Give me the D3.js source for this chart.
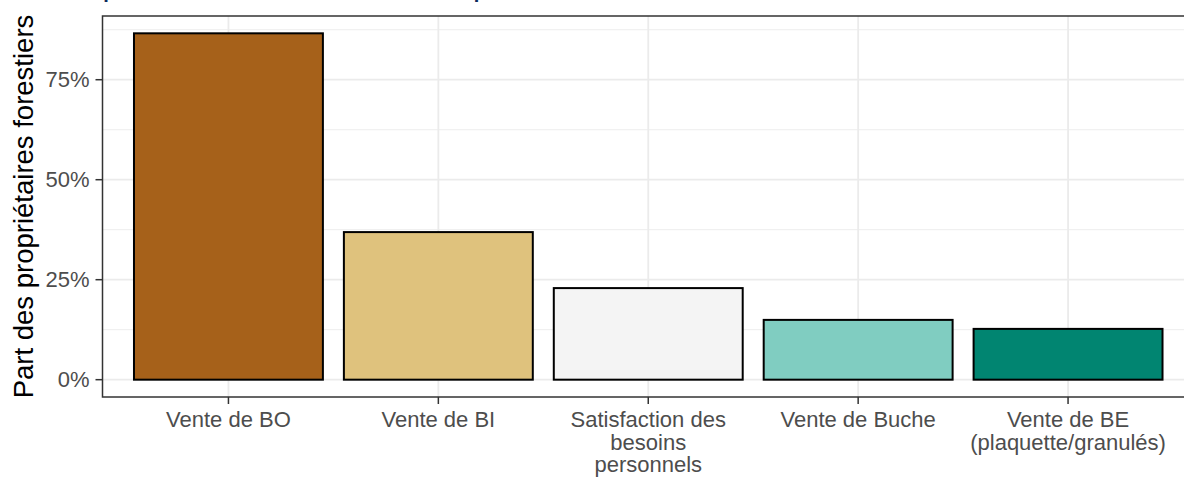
<!DOCTYPE html>
<html>
<meta charset="UTF-8">
    <head>
        <script src="https://d3js.org/d3.v7.min.js"></script>
        <style>
            body {
                margin: 0;
                font-family: "Liberation Sans", Arial, sans-serif;
                background: white;
            }
        </style>
    </head>
    <body>
    </body>
    <script>
        // data
        let categories = ["Vente de BO", "Vente de BI", "Satisfaction des besoins personnels", "Vente de Buche", "Vente de BE (plaquette/granulés)"];
        let labelLines = [["Vente de BO"], ["Vente de BI"], ["Satisfaction des", "besoins", "personnels"], ["Vente de Buche"], ["Vente de BE", "(plaquette/granulés)"]];
        let shares = [0.866, 0.369, 0.229, 0.1495, 0.127];
        let colors = ["#A6611A", "#DFC27D", "#F4F4F4", "#80CDC1", "#018571"];
        let yTicks = [0, 0.25, 0.5, 0.75];
        let yMinorTicks = [0.125, 0.375, 0.625, 0.875];
        let yTitle = "Part des propriétaires forestiers";
        let title = "produits valorisés en forêt privée";

        let width = 1184;
        let height = 477;
        let panel = {left: 102.5, top: 16, right: 1194, bottom: 397};

        let svg = d3.select("body").append("svg")
            .attr("width", width)
            .attr("height", height);

        let x = d3.scalePoint()
            .domain(categories)
            .range([panel.left, panel.right])
            .padding(0.6);

        let maxv = d3.max(shares);
        let y = d3.scaleLinear()
            .domain([-0.05 * maxv, maxv * 1.05])
            .range([panel.bottom, panel.top]);

        let barWidth = x.step() * 0.9;

        // title, mostly cut off at the top of the picture
        svg.append("text")
            .attr("x", panel.left)
            .attr("y", -4.6)
            .attr("fill", "#0B2A5B")
            .attr("font-size", "31.6px")
            .text(title);

        let clip = svg.append("clipPath").attr("id", "panelclip")
            .append("rect")
            .attr("x", panel.left)
            .attr("y", panel.top)
            .attr("width", panel.right - panel.left)
            .attr("height", panel.bottom - panel.top);

        let g = svg.append("g").attr("clip-path", "url(#panelclip)");

        // grid
        g.selectAll(".minor")
            .data(yMinorTicks)
            .join("line")
            .attr("x1", panel.left).attr("x2", panel.right)
            .attr("y1", d => y(d)).attr("y2", d => y(d))
            .attr("stroke", "#EBEBEB")
            .attr("stroke-width", 0.9);

        g.selectAll(".major")
            .data(yTicks)
            .join("line")
            .attr("x1", panel.left).attr("x2", panel.right)
            .attr("y1", d => y(d)).attr("y2", d => y(d))
            .attr("stroke", "#EBEBEB")
            .attr("stroke-width", 1.8);

        g.selectAll(".vgrid")
            .data(categories)
            .join("line")
            .attr("x1", d => x(d)).attr("x2", d => x(d))
            .attr("y1", panel.top).attr("y2", panel.bottom)
            .attr("stroke", "#EBEBEB")
            .attr("stroke-width", 1.8);

        // bars
        g.selectAll(".bar")
            .data(categories)
            .join("rect")
            .attr("x", d => x(d) - barWidth / 2)
            .attr("y", (d, i) => y(shares[i]))
            .attr("width", barWidth)
            .attr("height", (d, i) => y(0) - y(shares[i]))
            .attr("fill", (d, i) => colors[i])
            .attr("stroke", "black")
            .attr("stroke-width", 2);

        // panel border
        svg.append("rect")
            .attr("x", panel.left)
            .attr("y", panel.top)
            .attr("width", panel.right - panel.left)
            .attr("height", panel.bottom - panel.top)
            .attr("fill", "none")
            .attr("stroke", "#333333")
            .attr("stroke-width", 1.5);

        // y axis
        let yAxis = svg.append("g");
        yAxis.selectAll("line")
            .data(yTicks)
            .join("line")
            .attr("x1", panel.left - 7).attr("x2", panel.left)
            .attr("y1", d => y(d)).attr("y2", d => y(d))
            .attr("stroke", "#333333")
            .attr("stroke-width", 1.5);
        yAxis.selectAll("text")
            .data(yTicks)
            .join("text")
            .attr("x", panel.left - 13)
            .attr("y", d => y(d))
            .attr("dy", "0.35em")
            .attr("text-anchor", "end")
            .attr("fill", "#4D4D4D")
            .attr("font-size", "22px")
            .text(d3.format(".0%"));

        // x axis
        let xAxis = svg.append("g");
        xAxis.selectAll("line")
            .data(categories)
            .join("line")
            .attr("x1", d => x(d)).attr("x2", d => x(d))
            .attr("y1", panel.bottom).attr("y2", panel.bottom + 7)
            .attr("stroke", "#333333")
            .attr("stroke-width", 1.5);
        xAxis.selectAll("text")
            .data(categories)
            .join("text")
            .attr("x", d => x(d))
            .attr("y", 427)
            .attr("text-anchor", "middle")
            .attr("fill", "#4D4D4D")
            .attr("font-size", "22px")
            .each(function(d, i) {
                d3.select(this).selectAll("tspan")
                    .data(labelLines[i])
                    .join("tspan")
                    .attr("x", x(d))
                    .attr("dy", (l, j) => j == 0 ? 0 : 22.5)
                    .text(l => l);
            });

        // y axis title
        svg.append("text")
            .attr("transform", `translate(32.5, ${(panel.top + panel.bottom) / 2}) rotate(-90)`)
            .attr("text-anchor", "middle")
            .attr("fill", "black")
            .attr("font-size", "27.5px")
            .text(yTitle);
    </script>
</html>
